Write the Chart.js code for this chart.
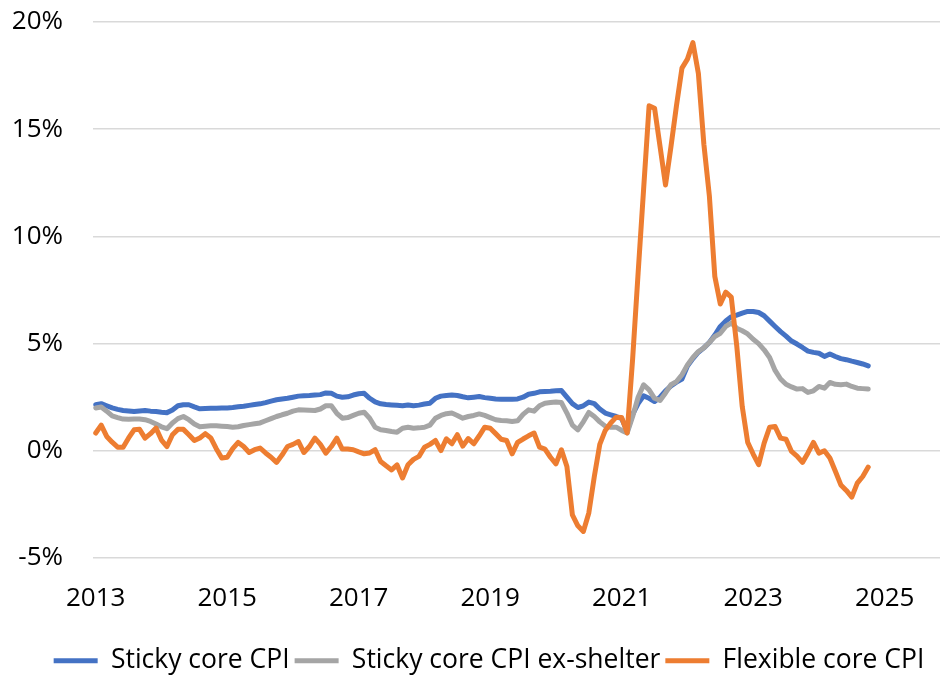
<!DOCTYPE html>
<html>
<head>
<meta charset="utf-8">
<script src="https://cdn.jsdelivr.net/npm/chart.js@4/dist/chart.umd.min.js"></script>
<style>
  html, body { margin: 0; padding: 0; background: #ffffff; }
  #wrap { width: 940px; height: 676px; }
</style>
</head>
<body>
<div id="wrap"><canvas id="c" width="940" height="676"></canvas></div>
<script>
// ---- Data (monthly, Jan 2013 – Oct 2024), percent ----
const startYear = 2013;
const seriesNames = ["Sticky core CPI", "Sticky core CPI ex-shelter", "Flexible core CPI"];
const stickyCore = [
  2.15, 2.2, 2.1, 2.0, 1.93, 1.88, 1.86, 1.83, 1.86, 1.88, 1.85, 1.83,
  1.8, 1.78, 1.9, 2.1, 2.15, 2.15, 2.05, 1.96, 1.97, 1.98, 1.99, 2.0,
  2.0, 2.02, 2.05, 2.08, 2.12, 2.16, 2.19, 2.25, 2.32, 2.38, 2.42, 2.45,
  2.5, 2.55, 2.57, 2.58, 2.6, 2.62, 2.7, 2.68, 2.55, 2.5, 2.52, 2.6,
  2.66, 2.68, 2.45, 2.28, 2.19, 2.16, 2.14, 2.12, 2.1, 2.14, 2.1, 2.13,
  2.18, 2.22, 2.45, 2.55, 2.58, 2.6, 2.58, 2.52, 2.47, 2.5, 2.53, 2.48,
  2.45, 2.42, 2.41, 2.4, 2.41, 2.42, 2.5, 2.64, 2.68, 2.75, 2.77, 2.78,
  2.8, 2.81, 2.5, 2.2, 2.02, 2.1, 2.27, 2.2, 1.95, 1.76, 1.68, 1.6,
  1.5, 0.9, 1.7, 2.2, 2.56, 2.45, 2.3, 2.5, 2.8, 3.03, 3.2, 3.35,
  3.95, 4.3, 4.6, 4.8, 5.05, 5.4, 5.8, 6.05, 6.25, 6.33, 6.42, 6.5,
  6.5, 6.45, 6.3, 6.05, 5.8, 5.56, 5.35, 5.12, 4.98, 4.82, 4.65, 4.59,
  4.55, 4.4, 4.52, 4.4, 4.3, 4.25, 4.18, 4.12, 4.05, 3.96
];
const stickyExShelter = [
  2.0, 2.04, 1.85, 1.63, 1.55, 1.48, 1.47, 1.48, 1.48, 1.45, 1.37, 1.25,
  1.12, 1.03, 1.3, 1.5, 1.6, 1.45, 1.25, 1.12, 1.15, 1.17, 1.17, 1.15,
  1.13, 1.1, 1.12, 1.18, 1.22, 1.26, 1.3, 1.4, 1.5, 1.6, 1.68, 1.75,
  1.85, 1.91, 1.9, 1.89, 1.88, 1.95, 2.1, 2.1, 1.75, 1.52, 1.55, 1.65,
  1.75, 1.8, 1.52, 1.1, 0.98, 0.95, 0.9, 0.87, 1.05, 1.1, 1.05, 1.07,
  1.1, 1.2, 1.52, 1.65, 1.73, 1.76, 1.65, 1.52, 1.6, 1.65, 1.72, 1.65,
  1.55, 1.45, 1.41, 1.4, 1.37, 1.4, 1.7, 1.91, 1.85, 2.1, 2.22, 2.25,
  2.28, 2.25, 1.76, 1.2, 0.98, 1.35, 1.79, 1.6, 1.35, 1.15, 1.1, 1.1,
  0.95, 0.83, 1.6, 2.5, 3.08, 2.84, 2.45, 2.35, 2.7, 3.08, 3.23, 3.55,
  4.0, 4.35, 4.63, 4.8, 5.05, 5.33, 5.48, 5.8, 5.96, 5.72, 5.6, 5.45,
  5.2, 5.0, 4.71, 4.35, 3.75, 3.35, 3.1, 2.98, 2.88, 2.9, 2.72, 2.8,
  3.0, 2.92, 3.19, 3.1, 3.08, 3.11, 3.0, 2.92, 2.9, 2.88
];
const flexibleCore = [
  0.83, 1.2, 0.67, 0.4, 0.17, 0.17, 0.6, 0.98, 1.0, 0.59, 0.8, 1.06,
  0.5, 0.2, 0.75, 1.0, 1.0, 0.75, 0.48, 0.6, 0.8, 0.6, 0.1, -0.34,
  -0.3, 0.1, 0.39, 0.2, -0.08, 0.05, 0.13, -0.1, -0.3, -0.54, -0.2, 0.2,
  0.3, 0.43, -0.08, 0.2, 0.59, 0.3, -0.11, 0.2, 0.59, 0.08, 0.08, 0.05,
  -0.05, -0.14, -0.1, 0.05, -0.5, -0.7, -0.89, -0.66, -1.27, -0.65, -0.4, -0.26,
  0.17, 0.3, 0.48, 0.01, 0.56, 0.33, 0.75, 0.22, 0.57, 0.33, 0.7, 1.1,
  1.05, 0.8, 0.54, 0.48, -0.14, 0.39, 0.55, 0.7, 0.83, 0.17, 0.08, -0.3,
  -0.61, 0.05, -0.73, -2.99, -3.5, -3.76, -2.9, -1.2, 0.3, 0.95, 1.3, 1.57,
  1.55, 0.83, 4.3, 8.3, 12.2, 16.09, 15.98, 14.2, 12.4, 14.2, 16.1, 17.85,
  18.27, 19.04, 17.6, 14.3, 11.9, 8.13, 6.85, 7.4, 7.17, 4.9, 2.07, 0.39,
  -0.15, -0.65, 0.36, 1.1, 1.13, 0.59, 0.54, -0.03, -0.25, -0.54, -0.1, 0.39,
  -0.11, 0.0, -0.34, -0.95, -1.59, -1.85, -2.16, -1.51, -1.2, -0.76
];
const xTickYears = [2013, 2015, 2017, 2019, 2021, 2023, 2025];
const yTicks = [-5, 0, 5, 10, 15, 20];

// month positions as decimal years (categories)
const monthPositions = stickyCore.map((_, i) => startYear + i / 12);
const toPoints = arr => arr.map((v, i) => ({ x: monthPositions[i], y: v }));

const FONT = "'Open Sans', 'Noto Sans', sans-serif";
Chart.defaults.font.family = FONT;
Chart.defaults.font.size = 26;
Chart.defaults.color = '#000000';

const colors = ['#4472C4', '#A5A5A5', '#ED7D31'];
const seriesData = [stickyCore, stickyExShelter, flexibleCore];

// shift the legend row so it sits centred under the plot like the reference
const legendPlacer = {
  id: 'legendPlacer',
  afterLayout(chart) {
    const lg = chart.legend;
    if (lg) { lg.left = 38; }
  }
};

new Chart(document.getElementById('c'), {
  type: 'line',
  data: {
    datasets: seriesData.map((arr, k) => ({
      label: seriesNames[k],
      data: toPoints(arr),
      borderColor: colors[k],
      backgroundColor: colors[k],
      borderWidth: 5,
      pointRadius: 0,
      pointHoverRadius: 0,
      tension: 0,
      borderJoinStyle: 'round',
      borderCapStyle: 'round',
      fill: false,
      order: 2 - k
    }))
  },
  plugins: [legendPlacer],
  options: {
    responsive: false,
    animation: false,
    devicePixelRatio: 1,
    layout: { padding: { left: 0, right: 0, top: 22, bottom: 0 } },
    plugins: {
      tooltip: { enabled: false },
      legend: {
        position: 'bottom',
        align: 'center',
        maxHeight: 33.5,
        labels: {
          usePointStyle: true,
          pointStyle: 'line',
          pointStyleWidth: 44,
          padding: 5,
          color: '#000000',
          font: { size: 26.5, family: FONT },
          sort: (a, b) => a.datasetIndex - b.datasetIndex
        }
      }
    },
    scales: {
      x: {
        type: 'linear',
        min: startYear - 0.5 / 12,
        max: startYear + 154.1 / 12,
        grid: { display: false, drawTicks: false },
        border: { display: false },
        afterBuildTicks: (scale) => { scale.ticks = xTickYears.map(v => ({ value: v })); },
        afterFit: (scale) => { scale.height = 84.5; scale.paddingRight = 0; },
        ticks: {
          padding: 25,
          autoSkip: false,
          maxRotation: 0,
          color: '#000000',
          font: { size: 26, family: FONT },
          callback: (v) => String(v)
        }
      },
      y: {
        min: -5,
        max: 20,
        afterBuildTicks: (scale) => { scale.ticks = yTicks.map(v => ({ value: v })); },
        afterFit: (scale) => { scale.width = 93; scale.paddingTop = 16; scale.paddingBottom = 16; },
        grid: { color: '#D9D9D9', lineWidth: 1.5, drawTicks: false },
        border: { display: false },
        ticks: {
          padding: 30,
          color: '#000000',
          font: { size: 26, family: FONT },
          callback: (v) => v + '%'
        }
      }
    }
  }
});
</script>
</body>
</html>
